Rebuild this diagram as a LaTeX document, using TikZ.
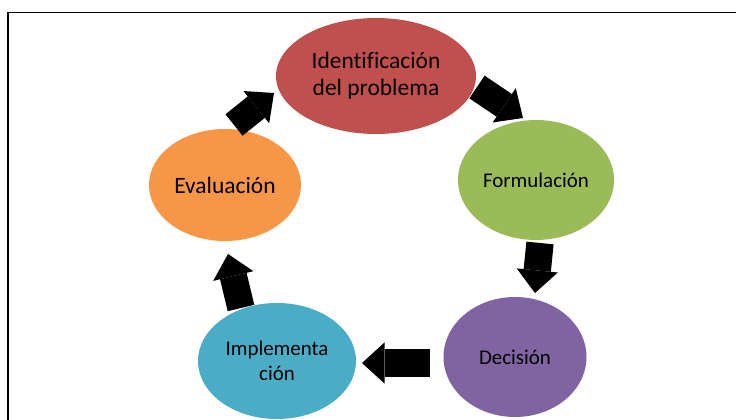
\documentclass[tikz,border=0pt]{standalone}
\usepackage{fontspec}
\setmainfont[Ligatures=NoCommon]{Carlito}
\usetikzlibrary{shapes.geometric,arrows.meta}
\definecolor{cred}{HTML}{C0504D}
\definecolor{cgreen}{HTML}{9BBB59}
\definecolor{cpurple}{HTML}{8064A2}
\definecolor{cteal}{HTML}{4BACC6}
\definecolor{corange}{HTML}{F79646}
\tikzset{
  bubble/.style={ellipse, inner sep=0pt, align=center, text=black},
  bigtxt/.style={font=\fontsize{17.6}{20.5}\selectfont},
  smalltxt/.style={font=\fontsize{15.7}{18.8}\selectfont},
  blockarrow/.style={line width=20.5pt, line cap=butt, black,
    -{Triangle[length=17pt 0, width=31pt 0, line width=0pt]}},
}
\begin{document}
\begin{tikzpicture}[x=0.75pt, y=-0.75pt]
\useasboundingbox (0,0) rectangle (736,420);
\fill[white] (0,0) rectangle (736,420);
% frame
\draw[line width=1.3pt, black] (8,420) -- (8,12.5) -- (736,12.5);
% ellipses
\node[bubble, bigtxt, fill=cred, minimum width=200*0.75pt, minimum height=116*0.75pt] (ident) at (376,76) {Identificación\\del problema};
\node[bubble, smalltxt, fill=cgreen, minimum width=156*0.75pt, minimum height=120*0.75pt] (form) at (536,180) {Formulación};
\node[bubble, smalltxt, fill=cpurple, minimum width=143*0.75pt, minimum height=120*0.75pt] (dec) at (515,357) {Decisión};
\node[bubble, smalltxt, fill=cteal, minimum width=158*0.75pt, minimum height=116*0.75pt] (impl) at (277,361) {Implementa\\ción};
\node[bubble, bigtxt, fill=corange, minimum width=152*0.75pt, minimum height=112*0.75pt] (eval) at (225,185) {Evaluación};
% arrow ends
\coordinate (a1s) at (234,125); \coordinate (a1e) at (274,93);
\coordinate (a2s) at (477,87);  \coordinate (a2e) at (523,118);
\coordinate (a3s) at (540,243); \coordinate (a3e) at (535,293);
\coordinate (a4s) at (430,363); \coordinate (a4e) at (362,363);
\coordinate (a5s) at (241,308); \coordinate (a5e) at (228,254);
\draw[blockarrow] (a1s) -- (a1e);
\draw[blockarrow] (a2s) -- (a2e);
\draw[blockarrow] (a3s) -- (a3e);
\draw[blockarrow] (a4s) -- (a4e);
\draw[blockarrow] (a5s) -- (a5e);
\end{tikzpicture}
\end{document}
